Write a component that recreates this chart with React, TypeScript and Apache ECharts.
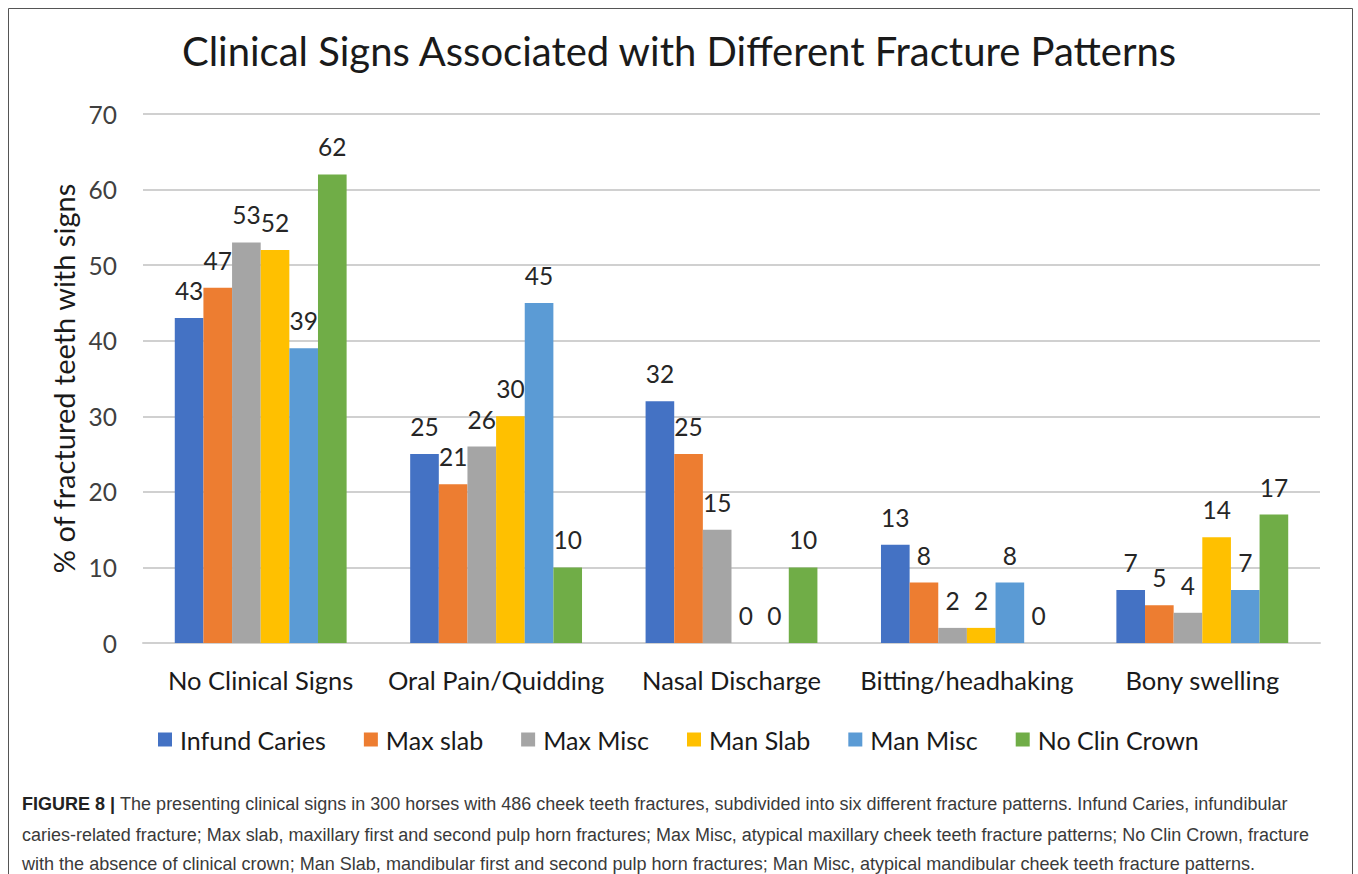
import React, { useEffect, useRef } from "react";
import * as echarts from "echarts";

const categories = [
  "No Clinical Signs",
  "Oral Pain/Quidding",
  "Nasal Discharge",
  "Bitting/headhaking",
  "Bony swelling",
];
const seriesNames = ["Infund Caries", "Max slab", "Max Misc", "Man Slab", "Man Misc", "No Clin Crown"];
const infundCaries = [43, 25, 32, 13, 7];
const maxSlab = [47, 21, 25, 8, 5];
const maxMisc = [53, 26, 15, 2, 4];
const manSlab = [52, 30, 0, 2, 14];
const manMisc = [39, 45, 0, 8, 7];
const noClinCrown = [62, 10, 10, 0, 17];
const seriesValues = [infundCaries, maxSlab, maxMisc, manSlab, manMisc, noClinCrown];
const colors = ["#4472C4", "#ED7D31", "#A5A5A5", "#FFC000", "#5B9BD5", "#70AD47"];

const titleText = "Clinical Signs Associated with Different Fracture Patterns";
const yAxisName = "% of fractured teeth with signs";
const captionLines = [
  "The presenting clinical signs in 300 horses with 486 cheek teeth fractures, subdivided into six different fracture patterns. Infund Caries, infundibular",
  "caries-related fracture; Max slab, maxillary first and second pulp horn fractures; Max Misc, atypical maxillary cheek teeth fracture patterns; No Clin Crown, fracture",
  "with the absence of clinical crown; Man Slab, mandibular first and second pulp horn fractures; Man Misc, atypical mandibular cheek teeth fracture patterns.",
];
const captionLead = "FIGURE 8 | ";

const FONT = "Lato, 'Open Sans', sans-serif";
const CAP_FONT = "'Liberation Sans', Arial, sans-serif";

function measure(text: string, font: string): number {
  const c = document.createElement("canvas").getContext("2d");
  if (!c) return text.length * 9;
  c.font = font;
  return c.measureText(text).width;
}

export default function App() {
  const ref = useRef<HTMLDivElement>(null);
  useEffect(() => {
    if (!ref.current) return;
    const chart = echarts.init(ref.current, null, { renderer: "svg" });
    const capSize = 19;
    const targets = [1266, 1288, 1234];
    const capY = [803, 834, 863];
    const captionGraphics = captionLines.map((line, i) => {
      let w = measure(line, `${capSize}px ${CAP_FONT}`);
      if (i === 0) w += measure(captionLead, `bold ${capSize}px ${CAP_FONT}`);
      const sx = targets[i] / w;
      return {
        type: "text",
        x: 22,
        y: capY[i],
        scaleX: sx,
        originX: 0,
        style: {
          text: i === 0 ? `{b|${captionLead}}${line}` : line,
          fontFamily: CAP_FONT,
          fontSize: capSize,
          fill: "#3a3a3a",
          verticalAlign: "middle",
          rich: { b: { fontWeight: "bold", fontFamily: CAP_FONT, fontSize: capSize, fill: "#222" } },
        },
      };
    });
    chart.setOption({
      animation: false,
      backgroundColor: "#ffffff",
      color: colors,
      textStyle: { fontFamily: FONT },
      title: {
        text: titleText,
        left: "center",
        top: 26,
        textStyle: { fontFamily: FONT, fontSize: 40, fontWeight: "normal", color: "#1a1a1a" },
      },
      legend: {
        left: 153,
        top: 722,
        itemWidth: 14,
        itemHeight: 14,
        itemGap: 38,
        icon: "rect",
        textStyle: { fontFamily: FONT, fontSize: 25, color: "#1a1a1a", padding: [0, 0, 0, 3] },
        data: seriesNames,
      },
      grid: { left: 143, right: 38, top: 114, bottom: 231, containLabel: false },
      xAxis: {
        type: "category",
        data: categories,
        axisLine: { lineStyle: { color: "#d0d0d0", width: 2 } },
        axisTick: { show: false },
        axisLabel: { interval: 0, fontFamily: FONT, fontSize: 25.5, color: "#1a1a1a", margin: 24 },
      },
      yAxis: {
        type: "value",
        min: 0,
        max: 70,
        interval: 10,
        name: yAxisName,
        nameLocation: "middle",
        nameGap: 63,
        nameTextStyle: { fontFamily: FONT, fontSize: 29, color: "#1a1a1a" },
        axisLine: { show: false },
        axisTick: { show: false },
        axisLabel: { fontFamily: FONT, fontSize: 24.5, color: "#404040", margin: 26 },
        splitLine: { lineStyle: { color: "#d0d0d0", width: 2 } },
      },
      series: seriesNames.map((name, i) => ({
        name,
        type: "bar",
        data: seriesValues[i],
        barGap: "0%",
        barCategoryGap: "27%",
        itemStyle: { color: colors[i] },
        label: {
          show: true,
          position: "top",
          distance: 15,
          fontFamily: FONT,
          fontSize: 24.5,
          color: "#262626",
        },
      })),
      graphic: [
        {
          type: "rect",
          shape: { x: 8.5, y: 8.5, width: 1344, height: 900 },
          style: { fill: "none", stroke: "#555555", lineWidth: 1 },
          silent: true,
        },
        ...captionGraphics,
      ],
    });
    return () => chart.dispose();
  }, []);
  return (
    <div
      ref={ref}
      style={{ position: "absolute", left: 0, top: 0, width: 1358, height: 874, overflow: "hidden" }}
    />
  );
}
